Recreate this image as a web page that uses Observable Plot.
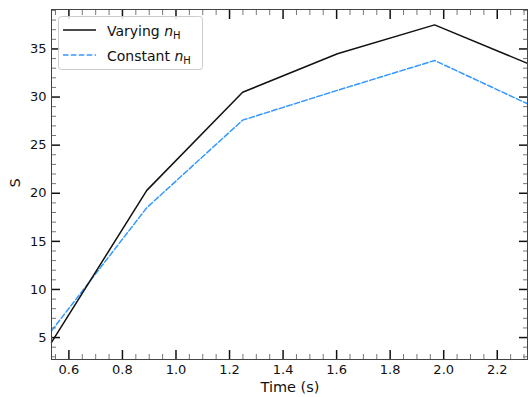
<!DOCTYPE html>
<html>
<head>
<meta charset="utf-8">
<script src="https://cdn.jsdelivr.net/npm/d3@7"></script>
<script src="https://cdn.jsdelivr.net/npm/@observablehq/plot@0.6"></script>
<style>
  html, body { margin: 0; padding: 0; background: #fff; }
  #chart { width: 528px; height: 397px; position: relative; }
</style>
</head>
<body>
<div id="chart"></div>
<script>
const time = [0.535, 0.891, 1.249, 1.603, 1.966, 2.313];
const varyingS = [4.5, 20.3, 30.5, 34.5, 37.5, 33.5];
const constantS = [5.7, 18.5, 27.6, 30.7, 33.8, 29.3];
const xMajor = [0.6, 0.8, 1.0, 1.2, 1.4, 1.6, 1.8, 2.0, 2.2];
const yMajor = [5, 10, 15, 20, 25, 30, 35];
const seriesNames = ["Varying", "Constant"];
const xLabel = "Time (s)";
const yLabel = "S";

const xMinor = d3.range(11, 47).map(i => i * 0.05).filter(v => Math.abs(v * 5 - Math.round(v * 5)) > 1e-6);
const yMinor = d3.range(3, 40).filter(v => v % 5 !== 0);

const rows = [];
time.forEach((t, i) => {
  rows.push({t, s: varyingS[i], k: seriesNames[0]});
  rows.push({t, s: constantS[i], k: seriesNames[1]});
});

const font = "DejaVu Sans, sans-serif";
const plot = Plot.plot({
  width: 528,
  height: 397,
  marginLeft: 51,
  marginRight: 1,
  marginTop: 9,
  marginBottom: 38,
  style: {fontFamily: font, fontSize: "13px", color: "#000", background: "#fff"},
  x: {domain: [0.535, 2.313]},
  y: {domain: [2.72, 39.1]},
  marks: [
    Plot.line(rows.filter(d => d.k === "Constant"), {x: "t", y: "s", stroke: "#3399ff", strokeWidth: 1.5, strokeDasharray: "5.5,2.4"}),
    Plot.line(rows.filter(d => d.k === "Varying"), {x: "t", y: "s", stroke: "#111", strokeWidth: 1.5}),
    // minor ticks
    Plot.axisX(xMinor, {anchor: "bottom", tickSize: -5, text: null, stroke: "#777", label: null}),
    Plot.axisX(xMinor, {anchor: "top", tickSize: -5, text: null, stroke: "#777", label: null}),
    Plot.axisY(yMinor, {anchor: "left", tickSize: -5, text: null, stroke: "#777", label: null}),
    Plot.axisY(yMinor, {anchor: "right", tickSize: -5, text: null, stroke: "#777", label: null}),
    // major ticks
    Plot.axisX(xMajor, {anchor: "bottom", tickSize: -9, text: null, stroke: "#111", strokeWidth: 1.5, label: null}),
    Plot.axisX(xMajor, {anchor: "top", tickSize: -9, text: null, stroke: "#111", strokeWidth: 1.5, label: null}),
    Plot.axisY(yMajor, {anchor: "left", tickSize: -9, text: null, stroke: "#111", strokeWidth: 1.5, label: null}),
    Plot.axisY(yMajor, {anchor: "right", tickSize: -9, text: null, stroke: "#111", strokeWidth: 1.5, label: null}),
    // tick labels
    Plot.axisX(xMajor, {anchor: "bottom", tickSize: 0, tickPadding: 5, tickFormat: d3.format(".1f"), fontSize: 13, fill: "#111", label: null}),
    Plot.axisY(yMajor, {anchor: "left", tickSize: 0, tickPadding: 5, fontSize: 13, fill: "#111", label: null}),
    Plot.frame({stroke: "#444", strokeWidth: 1})
  ]
});

document.getElementById("chart").appendChild(plot);

const svg = d3.select(plot);
// axis titles
svg.append("text").attr("x", 290).attr("y", 391.5).attr("text-anchor", "middle")
  .attr("font-family", font).attr("font-size", 14.5).attr("fill", "#111").text(xLabel);
svg.append("text").attr("transform", "translate(20,183) rotate(-90)").attr("text-anchor", "middle")
  .attr("font-family", font).attr("font-size", 14.5).attr("fill", "#111").text(yLabel);

// legend inside the axes
const g = svg.append("g").attr("font-family", font).attr("font-size", 14).attr("text-anchor", "start");
g.append("rect").attr("x", 58.5).attr("y", 16.5).attr("width", 144).attr("height", 53)
  .attr("rx", 3).attr("fill", "#fff").attr("fill-opacity", 0.85).attr("stroke", "#ccc");
const entries = [
  {name: seriesNames[0], stroke: "#111", dash: null, y: 30},
  {name: seriesNames[1], stroke: "#3399ff", dash: "5.5,2.4", y: 55}
];
entries.forEach(e => {
  g.append("line").attr("x1", 63).attr("x2", 96).attr("y1", e.y).attr("y2", e.y)
    .attr("stroke", e.stroke).attr("stroke-width", 1.5).attr("stroke-dasharray", e.dash);
  const t = g.append("text").attr("x", 107).attr("y", e.y + 5.5).attr("fill", "#111").attr("text-anchor", "start");
  t.append("tspan").text(e.name + " ");
  t.append("tspan").attr("font-style", "italic").text("n");
  t.append("tspan").attr("font-size", 10).attr("dy", 3).text("H");
});
</script>
</body>
</html>
